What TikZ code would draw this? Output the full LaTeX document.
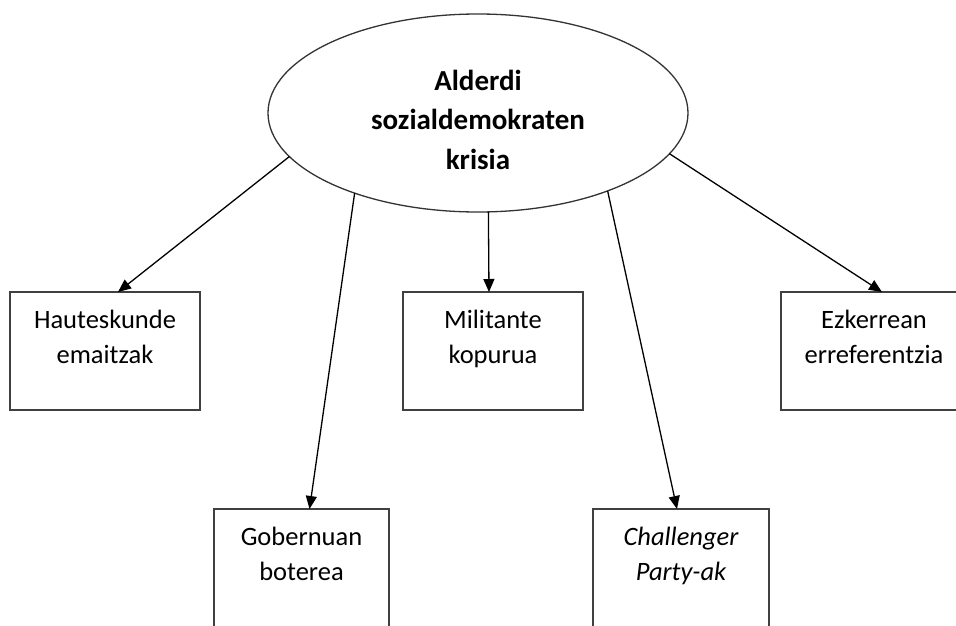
\documentclass[tikz,border=0pt]{standalone}
\usepackage{fontspec}
\setmainfont{Carlito}
\usetikzlibrary{arrows.meta,shapes.geometric,positioning}

\begin{document}
\begin{tikzpicture}[x=1pt,y=-1pt,
  every node/.style={outer sep=0pt},
  kutxa/.style={draw=black!75, line width=1.6pt, minimum height=118pt, inner sep=0pt},
  testua/.style={align=center, inner sep=0pt, font=\fontsize{26.5}{35}\selectfont},
  gezia/.style={-{Triangle[length=13pt,width=11pt]}, line width=1.3pt}]
\useasboundingbox (0,0) rectangle (956,626);
\clip (0,0) rectangle (956,626);

% erdiko elipsea
\node[ellipse, draw=black!80, line width=1.3pt, minimum width=420pt, minimum height=198pt, inner sep=0pt] (krisia) at (478,113) {};
\node[align=center, inner sep=0pt, font=\bfseries\fontsize{29}{39.5}\selectfont, anchor=north] (krisia-t) at (478,70) {Alderdi\\sozialdemokraten\\krisia};

% goiko kutxak
\node[kutxa, minimum width=190pt] (hauteskunde) at (105,351) {};
\node[kutxa, minimum width=180pt] (militante) at (493,351) {};
\node[kutxa, minimum width=186pt] (ezkerrean) at (874,351) {};
% beheko kutxak
\node[kutxa, minimum width=175pt] (gobernuan) at (301.5,568) {};
\node[kutxa, minimum width=176pt] (challenger) at (681,568) {};

\node[testua, below=18pt of hauteskunde.north] (hauteskunde-t) {Hauteskunde\\emaitzak};
\node[testua, below=18pt of militante.north] (militante-t) {Militante\\kopurua};
\node[testua, below=18pt of ezkerrean.north] (ezkerrean-t) {Ezkerrean\\erreferentzia};
\node[testua, below=18pt of gobernuan.north] (gobernuan-t) {Gobernuan\\boterea};
\node[testua, below=18pt of challenger.north] (challenger-t) {\itshape Challenger\\\itshape Party-ak};

% geziak
\draw[gezia] (krisia.193) -- ([xshift=13pt]hauteskunde.north);
\draw[gezia] (krisia.-84) -- ([xshift=-4pt]militante.north);
\draw[gezia] (krisia.213) -- ([xshift=8pt]gobernuan.north);
\draw[gezia] (krisia.-31.5) -- ([xshift=-4pt]challenger.north);
\draw[gezia] (krisia.-12) -- ([xshift=8pt]ezkerrean.north);
\end{tikzpicture}
\end{document}
